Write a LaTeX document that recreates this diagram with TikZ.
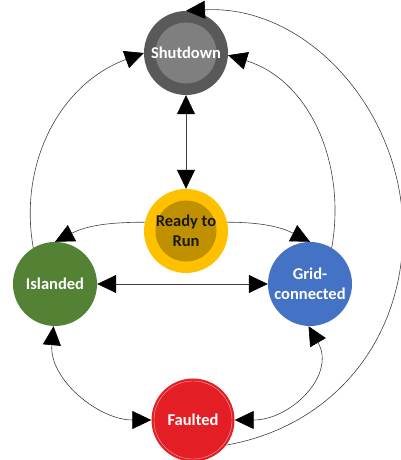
\documentclass[tikz,border=0pt]{standalone}
\usepackage{fontspec}
\setmainfont{Carlito}
\usetikzlibrary{arrows.meta}
\definecolor{sdout}{HTML}{595959}
\definecolor{sdin}{HTML}{7F7F7F}
\definecolor{rdout}{HTML}{FFC000}
\definecolor{rdin}{HTML}{BF9000}
\definecolor{islc}{HTML}{548235}
\definecolor{gridc}{HTML}{4472C4}
\definecolor{fltc}{HTML}{E31E24}
\definecolor{linec}{HTML}{404040}
\tikzset{
  state/.style={circle, minimum size=84pt, inner sep=0pt, align=center,
    font=\fontsize{16.5}{20}\selectfont\bfseries, text=white},
  conn/.style={draw=linec, line width=0.6pt},
  arr/.style={conn, -{Triangle[length=19pt,width=18pt,color=black]}},
  biarr/.style={conn, {Triangle[length=19pt,width=18pt,color=black]}-{Triangle[length=19pt,width=18pt,color=black]}}
}
\begin{document}
\begin{tikzpicture}[x=1pt,y=1pt]
\useasboundingbox (0,0) rectangle (401,460);
% nodes
\node[state, fill=sdout] (S) at (186,407) {};
\fill[sdin] (S.center) circle (30.5);
\node[state] (St) at (186,407) {Shutdown};
\node[state, fill=rdout] (R) at (186,229) {};
\fill[rdin] (R.center) circle (30.5);
\node[state, text={black!90}] (Rt) at (186,229) {Ready to\\Run};
\node[state, fill=islc] (I) at (55,176) {Islanded};
\node[state, fill=gridc] (G) at (310,176) {Grid-\\connected};
\node[state, fill=fltc, minimum size=83pt] (F) at (193,40) {};
\draw[white, opacity=0.6, line width=0.4pt] (F.center) circle (39);
\node[state] (Ft) at (193,40) {Faulted};
\coordinate (fr) at (403,228);
% connectors
\draw[biarr] (S.south) -- (R.north);
\draw[arr] (I.121) to[out=100, in=200] (S.180);
\draw[arr] (G.59) to[out=80, in=-17] (S.-3);
\draw[conn] (F.-37) to[out=10, in=-90] (fr);
\draw[arr] (fr) to[out=90, in=3] (S.north);
\draw[arr] (R.168) to[out=180, in=27] (I.north);
\draw[arr] (R.12) to[out=0, in=153] (G.north);
\draw[biarr] (I.east) -- (G.west);
\draw[biarr] (I.-92) to[out=-95, in=180] (F.west);
\draw[biarr] (G.-92) to[out=-60, in=0, looseness=1.2] (F.east);
\end{tikzpicture}
\end{document}
